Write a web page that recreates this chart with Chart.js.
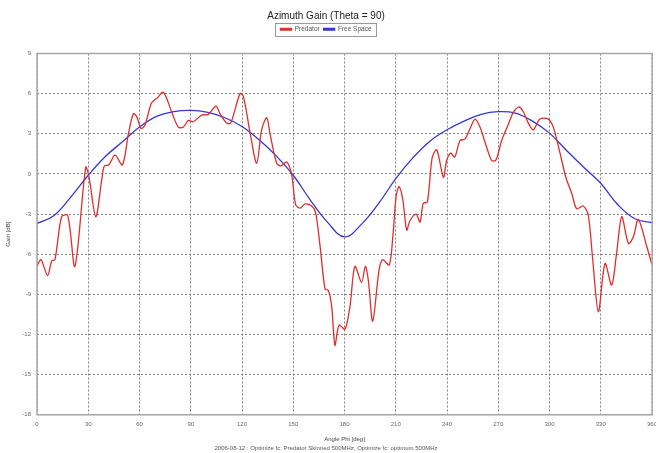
<!DOCTYPE html>
<html>
<head>
<meta charset="utf-8">
<script src="https://cdn.jsdelivr.net/npm/chart.js@4"></script>
<style>
  html, body { margin: 0; padding: 0; background: #fff; }
  #wrap { width: 656px; height: 453px; }
</style>
</head>
<body>
<div id="wrap"><canvas id="azimuthChart" width="656" height="453"></canvas></div>
<script>
// angles in degrees, gain in dB
var predatorAngles = [0, 2.3, 6.2, 8.6, 10.5, 14.4, 18, 22.2, 28.5, 30.4, 34.4, 37.9, 39.4, 42, 45.7, 50, 53.5, 56.4, 58.3, 60.9,
    63.2, 67, 70.5, 74, 78.8, 82.7, 85.6, 88.6, 91.5, 96.4, 100.3, 104.8, 107.1, 111, 113.4, 118.8, 120.8, 124.7, 128.6, 131.5,
    134.5, 136.4, 140.3, 142.8, 146.2, 149.1, 151.4, 154, 156.9, 160.8, 163.1, 165.7, 168.6, 170.5, 172.5, 174.4, 176.8, 180.3, 183.2, 186.1,
    190, 192.2, 194, 196.5, 200.2, 202.3, 206.2, 208.4, 210.2, 211.9, 214.1, 216.4, 218.3, 221.9, 224.2, 226.1, 228.5, 231.3, 234, 237.9,
    239.8, 242.2, 244.5, 247.6, 250.5, 253.5, 256.4, 259.3, 263.2, 266.2, 268.7, 272, 275.9, 278.8, 282, 284.7, 287.6, 290.5, 294.4, 299.3,
    302.2, 305.7, 309.7, 313, 315.9, 319.8, 322.7, 325.3, 328.6, 332.5, 336.4, 339.3, 342.3, 346.2, 349.1, 352, 356.9, 360];
var predatorGain = [-6.9, -6.4, -7.6, -6.5, -6.4, -3.2, -3.1, -6.9, 0.5, -0.2, -3.2, -0.45, 0.6, 0.67, 1.4, 0.67, 3.0, 4.5, 4.3, 3.4,
    3.65, 5.3, 5.7, 6.1, 4.65, 3.5, 3.5, 4.0, 3.9, 4.4, 4.45, 5.07, 4.5, 3.8, 3.8, 6.0, 5.8, 3.1, 0.8, 3.3,
    4.2, 3.0, 0.8, 0.6, 0.9, -0.07, -2.3, -2.55, -2.24, -2.4, -2.9, -5.4, -8.6, -8.7, -9.9, -12.8, -11.3, -11.6, -9.9, -6.9,
    -8.1, -6.9, -8.0, -11.0, -7.2, -6.4, -6.8, -4.5, -1.7, -0.95, -1.9, -4.2, -3.5, -3.0, -3.6, -2.2, -2.1, 1.2, 1.8, -0.25,
    1.0, 1.55, 1.25, 2.5, 2.6, 3.4, 4.1, 3.5, 2.0, 1.0, 1.05, 2.5, 3.7, 4.6, 5.0, 4.65, 3.8, 3.3, 4.1, 4.1,
    3.5, 1.8, -0.3, -1.45, -2.6, -2.4, -3.1, -6.4, -10.3, -6.7, -8.3, -5.9, -3.2, -5.2, -4.7, -3.4, -5.4, -6.8];

var freeSpaceAngles = [0, 10, 20, 30, 40, 50, 60, 70, 80, 90, 100, 110, 120, 130, 140, 150, 160, 170, 180,
    190, 200, 210, 220, 230, 240, 250, 260, 270, 280, 290, 300, 310, 320, 330, 340, 350, 360];
var freeSpaceGain = [-3.7, -3.1, -1.7, -0.1, 1.3, 2.4, 3.5, 4.3, 4.65, 4.75, 4.6, 4.2, 3.55, 2.55, 1.35, -0.1, -1.95, -3.6, -4.7,
    -3.75, -2.2, -0.35, 1.2, 2.45, 3.3, 3.95, 4.45, 4.65, 4.55, 3.95, 3.05, 1.75, 0.5, -0.7, -2.3, -3.35, -3.65];

var xTicks = [0, 30, 60, 90, 120, 150, 180, 210, 240, 270, 300, 330, 360];
var yTicks = [-18, -15, -12, -9, -6, -3, 0, 3, 6, 9];

function toPoints(xs, ys) {
    var pts = [];
    for (var i = 0; i < xs.length; i++) pts.push({x: xs[i], y: ys[i]});
    return pts;
}

// frame round the plot and round the legend, plus some room under the legend
var framePlugin = {
    id: 'frame',
    beforeLayout: function(chart) {
        var lg = chart.legend;
        if (lg && !lg._padded) {
            var fit = lg.fit;
            lg.fit = function() {
                fit.call(this);
                this.height += 11;
            };
            lg._padded = true;
        }
    },
    afterDraw: function(chart) {
        var ctx = chart.ctx, a = chart.chartArea;
        ctx.save();
        ctx.strokeStyle = '#a8a8a8';
        ctx.lineWidth = 1.5;
        ctx.strokeRect(a.left, a.top, a.right - a.left, a.bottom - a.top);
        var boxes = chart.legend.legendHitBoxes;
        if (boxes && boxes.length) {
            var l = Infinity, r = -Infinity, t = Infinity, b = -Infinity;
            boxes.forEach(function(h) {
                l = Math.min(l, h.left); r = Math.max(r, h.left + h.width);
                t = Math.min(t, h.top); b = Math.max(b, h.top + h.height);
            });
            ctx.strokeStyle = '#999';
            ctx.lineWidth = 1;
            ctx.strokeRect(Math.round(l - 5) + 0.5, Math.round(t - 3) + 0.5, Math.round(r - l + 10), Math.round(b - t + 6));
        }
        ctx.restore();
    }
};

var gridStyle = {
    color: '#808080',
    lineWidth: 1,
    drawTicks: false
};

new Chart(document.getElementById('azimuthChart'), {
    type: 'line',
    data: {
        datasets: [{
            label: 'Predator',
            data: toPoints(predatorAngles, predatorGain),
            borderColor: 'rgb(226, 45, 45)',
            backgroundColor: 'rgb(226, 45, 45)',
            borderWidth: 1.3,
            pointRadius: 0,
            tension: 0.3
        }, {
            label: 'Free Space',
            data: toPoints(freeSpaceAngles, freeSpaceGain),
            borderColor: 'rgb(55, 55, 205)',
            backgroundColor: 'rgb(55, 55, 205)',
            borderWidth: 1.3,
            pointRadius: 0,
            tension: 0.4
        }]
    },
    options: {
        responsive: false,
        animation: false,
        layout: { padding: { left: 0, right: 4, top: 0, bottom: 0 } },
        plugins: {
            title: {
                display: true,
                text: 'Azimuth Gain (Theta = 90)',
                color: '#222',
                font: { family: 'Liberation Sans', size: 10, weight: 'normal' },
                padding: { top: 10, bottom: 0 }
            },
            subtitle: {
                display: true,
                position: 'bottom',
                text: '2006-08-12 : Optimize fc: Predator Skinned 500MHz, Optimize fc: optimum 500MHz',
                color: '#555',
                font: { family: 'Liberation Sans', size: 6 },
                padding: { top: 2, bottom: 1 }
            },
            legend: {
                labels: {
                    color: '#555',
                    font: { family: 'Liberation Sans', size: 6.5 },
                    boxWidth: 11,
                    boxHeight: 1.5,
                    padding: 4
                }
            },
            tooltip: { enabled: false }
        },
        scales: {
            x: {
                type: 'linear',
                min: 0,
                max: 360,
                afterBuildTicks: function(scale) {
                    scale.ticks = xTicks.map(function(v) { return {value: v}; });
                },
                afterFit: function(scale) {
                    scale.height = 28;
                    scale.paddingLeft = 0;
                    scale.paddingRight = 0;
                },
                grid: gridStyle,
                border: { display: false, dash: [2, 2] },
                ticks: {
                    color: '#666',
                    font: { family: 'Liberation Sans', size: 6 },
                    padding: 6,
                    maxRotation: 0
                },
                title: {
                    display: true,
                    text: 'Angle Phi [deg]',
                    color: '#444',
                    font: { family: 'Liberation Sans', size: 6 },
                    padding: { top: 2, bottom: 0 }
                }
            },
            y: {
                min: -18,
                max: 9,
                afterBuildTicks: function(scale) {
                    scale.ticks = yTicks.map(function(v) { return {value: v}; });
                },
                afterFit: function(scale) { scale.width = 37; },
                grid: gridStyle,
                border: { display: false, dash: [2, 2] },
                ticks: {
                    color: '#666',
                    font: { family: 'Liberation Sans', size: 6 },
                    padding: 6
                },
                title: {
                    display: true,
                    text: 'Gain [dB]',
                    color: '#444',
                    font: { family: 'Liberation Sans', size: 6 },
                    padding: { top: 5, bottom: 4 }
                }
            }
        }
    },
    plugins: [framePlugin]
});
</script>
</body>
</html>
